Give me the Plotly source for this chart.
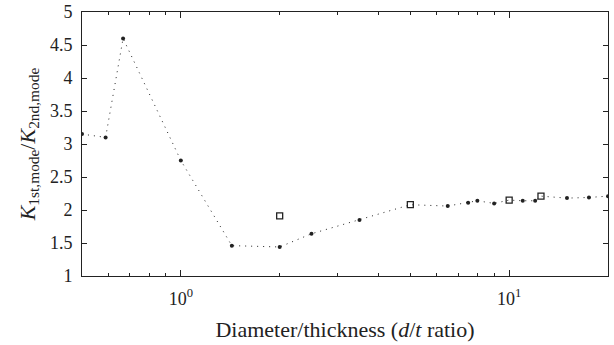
import plotly.graph_objects as go

# Dotted connecting line (all points on the trend, sorted by d/t)
line_x = [0.5, 0.59, 0.667, 1.0, 1.43, 2.0, 2.5, 3.5, 5.0, 6.5, 7.5, 8.0, 9.0, 10.0, 11.0, 12.0, 12.5, 15.0, 17.5, 20.0]
line_y = [3.15, 3.10, 4.60, 2.75, 1.46, 1.44, 1.64, 1.85, 2.08, 2.06, 2.11, 2.14, 2.10, 2.15, 2.14, 2.14, 2.21, 2.18, 2.19, 2.21]

# Filled circle markers
circ_x = [0.5, 0.59, 0.667, 1.0, 1.43, 2.0, 2.5, 3.5, 6.5, 7.5, 8.0, 9.0, 11.0, 12.0, 15.0, 17.5, 20.0]
circ_y = [3.15, 3.10, 4.60, 2.75, 1.46, 1.44, 1.64, 1.85, 2.06, 2.11, 2.14, 2.10, 2.14, 2.14, 2.18, 2.19, 2.21]

# Open square markers
sq_x = [2.0, 5.0, 10.0, 12.5]
sq_y = [1.91, 2.08, 2.15, 2.21]

y_ticks = [1, 1.5, 2, 2.5, 3, 3.5, 4, 4.5, 5]
y_ticktext = ["1", "1.5", "2", "2.5", "3", "3.5", "4", "4.5", "5"]
x_major = [1, 10]
x_major_text = ["10<sup>0</sup>", "10<sup>1</sup>"]
x_minor = [0.5, 0.6, 0.7, 0.8, 0.9, 2, 3, 4, 5, 6, 7, 8, 9, 20]

ink = "#222222"
fig = go.Figure()
fig.add_trace(go.Scatter(x=line_x, y=line_y, mode="lines",
                         line=dict(color=ink, width=1, dash="1px,5px"),
                         hoverinfo="skip", showlegend=False))
fig.add_trace(go.Scatter(x=circ_x, y=circ_y, mode="markers",
                         marker=dict(symbol="circle", size=4, color=ink),
                         showlegend=False))
fig.add_trace(go.Scatter(x=sq_x, y=sq_y, mode="markers",
                         marker=dict(symbol="square-open", size=6, color=ink,
                                     line=dict(width=1.3, color=ink)),
                         showlegend=False))

font = "Liberation Serif, Times New Roman, serif"
fig.update_layout(
    width=614, height=345,
    margin=dict(l=82, r=6, t=12, b=69),
    paper_bgcolor="white", plot_bgcolor="white",
    font=dict(family=font, size=18, color=ink),
    xaxis=dict(type="log", range=[-0.30103, 1.30103], automargin=False,
               tickmode="array", tickvals=x_major, ticktext=x_major_text,
               ticks="inside", ticklen=6, tickcolor=ink, ticklabelstandoff=6,
               minor=dict(tickvals=x_minor, ticks="inside", ticklen=3, tickcolor=ink),
               showline=True, linecolor=ink, linewidth=1, mirror="ticks",
               showgrid=False, zeroline=False,
               title=dict(text="Diameter/thickness (<i>d</i>/<i>t</i> ratio)", standoff=14)),
    yaxis=dict(range=[1, 5], automargin=False, ticklabeloverflow="allow",
               tickmode="array", tickvals=y_ticks, ticktext=y_ticktext,
               ticks="inside", ticklen=5, tickcolor=ink, ticklabelstandoff=5,
               showline=True, linecolor=ink, linewidth=1, mirror="ticks",
               showgrid=False, zeroline=False,
               title=dict(text="<i>K</i><sub>1st,mode</sub>/<i>K</i><sub>2nd,mode</sub>",
                          font=dict(size=22), standoff=8)),
)
fig.write_html("out.html", config={"displayModeBar": False},
               post_script="document.body.style.margin='0';document.body.style.overflow='hidden';")
